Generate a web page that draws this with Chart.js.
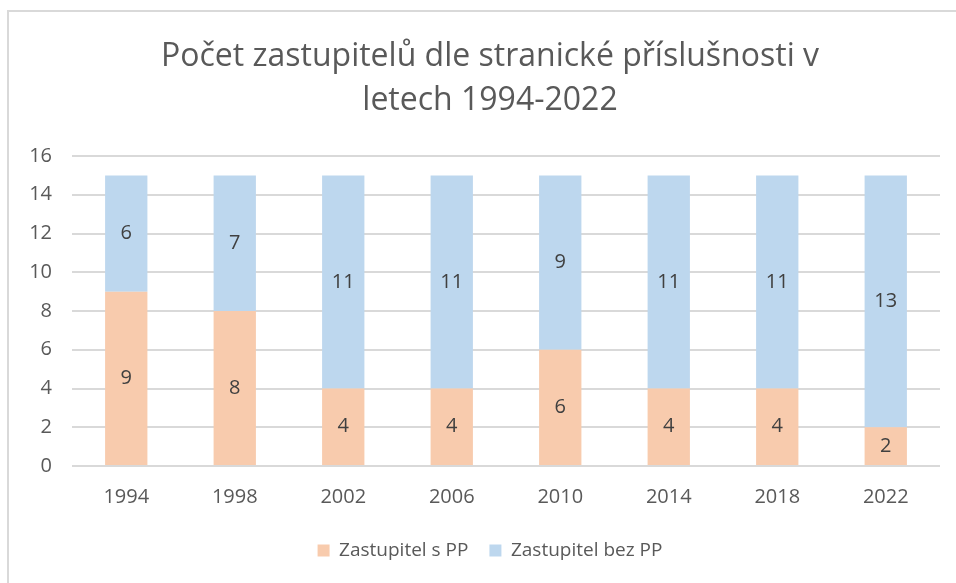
<!DOCTYPE html>
<html>
<head>
<meta charset="utf-8">
<script src="https://cdn.jsdelivr.net/npm/chart.js@4"></script>
<style>
    body { margin: 0; background: #fff; }
    #wrap { position: relative; width: 956px; height: 583px; overflow: hidden; }
    #frame { position: absolute; left: 7px; top: 10px; width: 980px; height: 620px; border: 2px solid #d9d9d9; box-sizing: border-box; }
    #chart { position: absolute; left: 0; top: 0; }
</style>
</head>
<body>
<div id="wrap">
    <div id="frame"></div>
    <canvas id="chart" width="956" height="583"></canvas>
</div>
<script>
const years = ['1994', '1998', '2002', '2006', '2010', '2014', '2018', '2022'];
const sPP = [9, 8, 4, 4, 6, 4, 4, 2];
const bezPP = [6, 7, 11, 11, 9, 11, 11, 13];
const titleLines = ['Počet zastupitelů dle stranické příslušnosti v', 'letech 1994-2022'];

const FONT = '"Open Sans", Lato, sans-serif';
const TEXT = '#595959';

// draws the number in the middle of every bar piece
const barLabels = {
    id: 'barLabels',
    afterDatasetsDraw(chart) {
        const ctx = chart.ctx;
        ctx.save();
        ctx.font = '20px ' + FONT;
        ctx.fillStyle = '#404040';
        ctx.textAlign = 'center';
        ctx.textBaseline = 'middle';
        chart.data.datasets.forEach((ds, i) => {
            chart.getDatasetMeta(i).data.forEach((bar, j) => {
                ctx.fillText(ds.data[j], bar.x, (bar.y + bar.base) / 2);
            });
        });
        ctx.restore();
    }
};

const ctx = document.getElementById('chart').getContext('2d');
const myChart = new Chart(ctx, {
    type: 'bar',
    data: {
        labels: years,
        datasets: [{
            label: 'Zastupitel s PP',
            data: sPP,
            backgroundColor: '#F8CBAD'
        }, {
            label: 'Zastupitel bez PP',
            data: bezPP,
            backgroundColor: '#BDD7EE'
        }]
    },
    options: {
        responsive: false,
        animation: false,
        categoryPercentage: 1,
        barPercentage: 0.39,
        layout: {
            // left padding pushes the title centre to the right like the original
            padding: { left: 40, right: 16, top: 0, bottom: 13 }
        },
        plugins: {
            title: {
                display: true,
                text: titleLines,
                color: TEXT,
                font: { family: FONT, size: 32, weight: 'normal', lineHeight: 1.375 },
                padding: { top: 35, bottom: 33 }
            },
            legend: {
                position: 'bottom',
                labels: {
                    color: TEXT,
                    boxWidth: 12,
                    boxHeight: 12,
                    padding: 21,
                    font: { family: FONT, size: 19 }
                }
            },
            tooltip: { enabled: false }
        },
        scales: {
            x: {
                stacked: true,
                grid: { display: false },
                border: { display: false },
                ticks: {
                    color: TEXT,
                    padding: 11,
                    font: { family: FONT, size: 20 }
                }
            },
            y: {
                stacked: true,
                min: 0,
                max: 16,
                afterFit(scale) {
                    scale.width = 32;
                    // labels stick out into the left padding, don't clip them
                    scale._computeLabelArea = () => undefined;
                },
                grid: { color: '#d9d9d9', lineWidth: 2, drawTicks: false },
                border: { display: false },
                ticks: {
                    stepSize: 2,
                    color: TEXT,
                    padding: 20,
                    font: { family: FONT, size: 20 }
                }
            }
        }
    },
    plugins: [barLabels]
});
</script>
</body>
</html>
